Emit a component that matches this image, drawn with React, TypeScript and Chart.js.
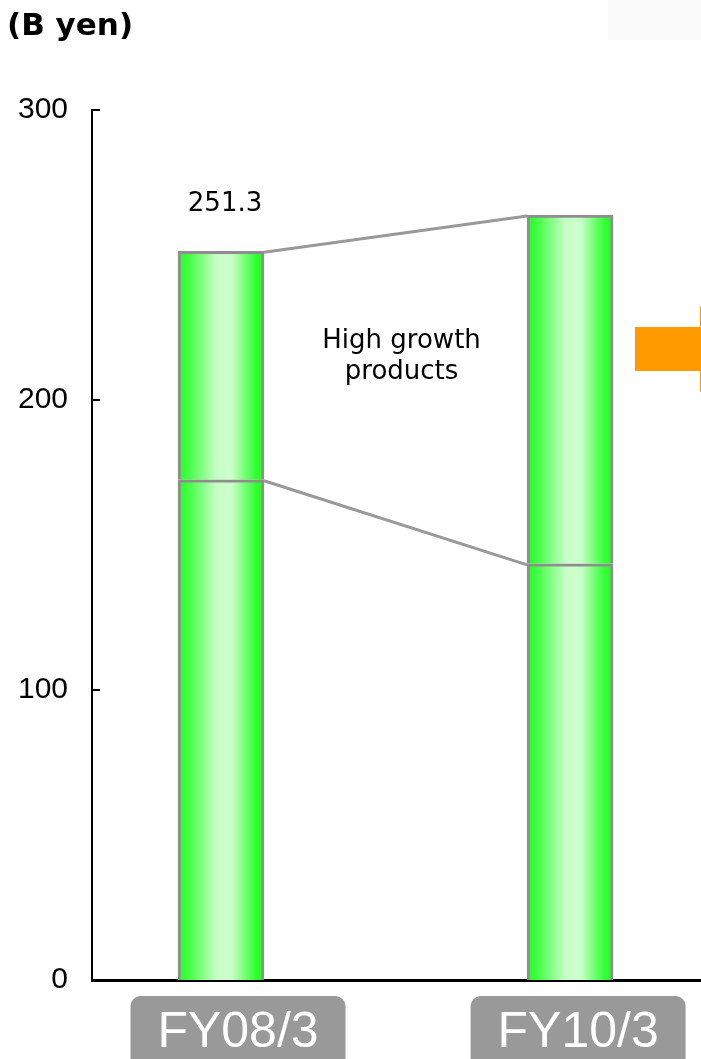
import React, { useEffect, useRef } from 'react';
import { Chart, registerables } from 'chart.js';

Chart.register(...registerables);

// ---- data ----
const categories = ['FY08/3', 'FY10/3'];
const otherProducts = [172.5, 143.5];
const highGrowthProducts = [78.8, 120.3];
const totalLabels = ['251.3', ''];
const yTickValues = [0, 100, 200, 300];
const unitLabel = '(B yen)';
const growthLabelLines = ['High growth', 'products'];

const W = 701;
const H = 1059;

export default function App() {
  const ref = useRef<HTMLCanvasElement>(null);

  useEffect(() => {
    document.body.style.margin = '0';
    const canvas = ref.current;
    if (!canvas) return;

    const barGradient = (ctx: any) => {
      const chart = ctx.chart;
      const xs = chart.scales && chart.scales.x;
      if (!xs || !chart.chartArea) return '#66ff66';
      const cx = xs.getPixelForValue(ctx.dataIndex);
      const half = 43;
      const g = chart.ctx.createLinearGradient(cx - half, 0, cx + half, 0);
      g.addColorStop(0, '#22ff22');
      g.addColorStop(0.12, '#44ff44');
      g.addColorStop(0.45, '#c8ffc8');
      g.addColorStop(0.62, '#ccffcc');
      g.addColorStop(0.9, '#33ff33');
      g.addColorStop(1, '#22ff22');
      return g;
    };

    const decor = {
      id: 'decor',
      beforeDraw(chart: any) {
        const c = chart.ctx;
        c.save();
        c.fillStyle = '#fbfbfb';
        c.fillRect(608, 0, 93, 40);
        c.restore();
      },
      afterDatasetsDraw(chart: any) {
        const c = chart.ctx;
        const xs = chart.scales.x;
        const ys = chart.scales.y;
        const half = 43;
        c.save();
        c.strokeStyle = '#999999';
        c.lineWidth = 3;
        c.lineCap = 'butt';
        const tops = otherProducts.map((v, i) => v + highGrowthProducts[i]);
        const pairs = [tops, otherProducts];
        for (const arr of pairs) {
          c.beginPath();
          c.moveTo(xs.getPixelForValue(0) + half, ys.getPixelForValue(arr[0]) + 1);
          c.lineTo(xs.getPixelForValue(1) - half, ys.getPixelForValue(arr[1]) + 1);
          c.stroke();
        }
        c.restore();
      },
      afterDraw(chart: any) {
        const c = chart.ctx;
        const xs = chart.scales.x;
        const ys = chart.scales.y;
        const area = chart.chartArea;
        c.save();
        // inward tick marks
        c.strokeStyle = '#000';
        c.lineWidth = 2;
        for (const t of yTickValues) {
          if (t === 0) continue;
          const y = ys.getPixelForValue(t);
          c.beginPath();
          c.moveTo(area.left, y);
          c.lineTo(area.left + 8, y);
          c.stroke();
        }
        // unit label
        c.fillStyle = '#000';
        c.font = 'bold 31px "DejaVu Sans"';
        c.textAlign = 'left';
        c.textBaseline = 'middle';
        c.fillText(unitLabel, 7, 27);
        // total labels
        c.font = '26px "DejaVu Sans"';
        c.textAlign = 'center';
        totalLabels.forEach((lbl, i) => {
          if (!lbl) return;
          const top = ys.getPixelForValue(otherProducts[i] + highGrowthProducts[i]);
          c.fillText(lbl, xs.getPixelForValue(i) + 4, top - 47);
        });
        // growth label
        const midX = (xs.getPixelForValue(0) + xs.getPixelForValue(1)) / 2 + 6;
        const midY = ys.getPixelForValue(215);
        c.font = '26px "DejaVu Sans"';
        c.fillText(growthLabelLines[0], midX, midY - 15);
        c.fillText(growthLabelLines[1], midX, midY + 16);
        // orange arrow (clipped at right edge)
        c.fillStyle = '#ff9900';
        c.fillRect(635, 327, 66, 44);
        c.beginPath();
        c.moveTo(700, 306);
        c.lineTo(760, 349);
        c.lineTo(700, 392);
        c.closePath();
        c.fill();
        // category boxes
        const shifts = [17, 8];
        categories.forEach((cat, i) => {
          const cx = xs.getPixelForValue(i) + shifts[i];
          const bw = 215;
          const top = area.bottom + 16;
          c.fillStyle = '#999999';
          c.beginPath();
          (c as any).roundRect(cx - bw / 2, top, bw, 80, 10);
          c.fill();
          c.fillStyle = '#ffffff';
          c.font = '50px "Liberation Sans"';
          c.textAlign = 'center';
          c.textBaseline = 'alphabetic';
          c.fillText(cat, cx, area.bottom + 67);
        });
        c.restore();
      },
    };

    const chart = new Chart(canvas, {
      type: 'bar',
      data: {
        datasets: [
          {
            label: 'Other products',
            data: otherProducts.map((v, i) => ({ x: i, y: v })),
            backgroundColor: barGradient,
            borderColor: '#8e8e8e',
            borderWidth: { top: 3, left: 3, right: 3, bottom: 0 },
            borderSkipped: false,
            barThickness: 86,
          },
          {
            label: 'High growth products',
            data: highGrowthProducts.map((v, i) => ({ x: i, y: v })),
            backgroundColor: barGradient,
            borderColor: '#8e8e8e',
            borderWidth: { top: 3, left: 3, right: 3, bottom: 0 },
            borderSkipped: false,
            barThickness: 86,
          },
        ],
      },
      options: {
        responsive: false,
        animation: false,
        layout: { padding: { top: 110, right: 0, bottom: 0, left: 0 } },
        plugins: { legend: { display: false }, tooltip: { enabled: false } },
        scales: {
          x: {
            type: 'linear',
            stacked: true,
            offset: false,
            min: -0.3696,
            max: 1.375,
            ticks: { display: false },
            grid: { display: false, drawTicks: false, offset: false },
            border: { display: true, color: '#000', width: 3 },
            afterFit: (s: any) => {
              s.height = 79;
            },
          },
          y: {
            stacked: true,
            min: 0,
            max: 300,
            ticks: {
              stepSize: 100,
              color: '#000',
              padding: 24,
              font: { family: '"Liberation Sans"', size: 30 },
            },
            grid: { display: false, drawTicks: false },
            border: { display: true, color: '#000', width: 2 },
            afterFit: (s: any) => {
              s.width = 92;
            },
          },
        },
      },
      plugins: [decor],
    });

    return () => chart.destroy();
  }, []);

  return (
    <div style={{ width: W, height: H, position: 'relative' }}>
      <canvas ref={ref} width={W} height={H} style={{ display: 'block' }} />
    </div>
  );
}
